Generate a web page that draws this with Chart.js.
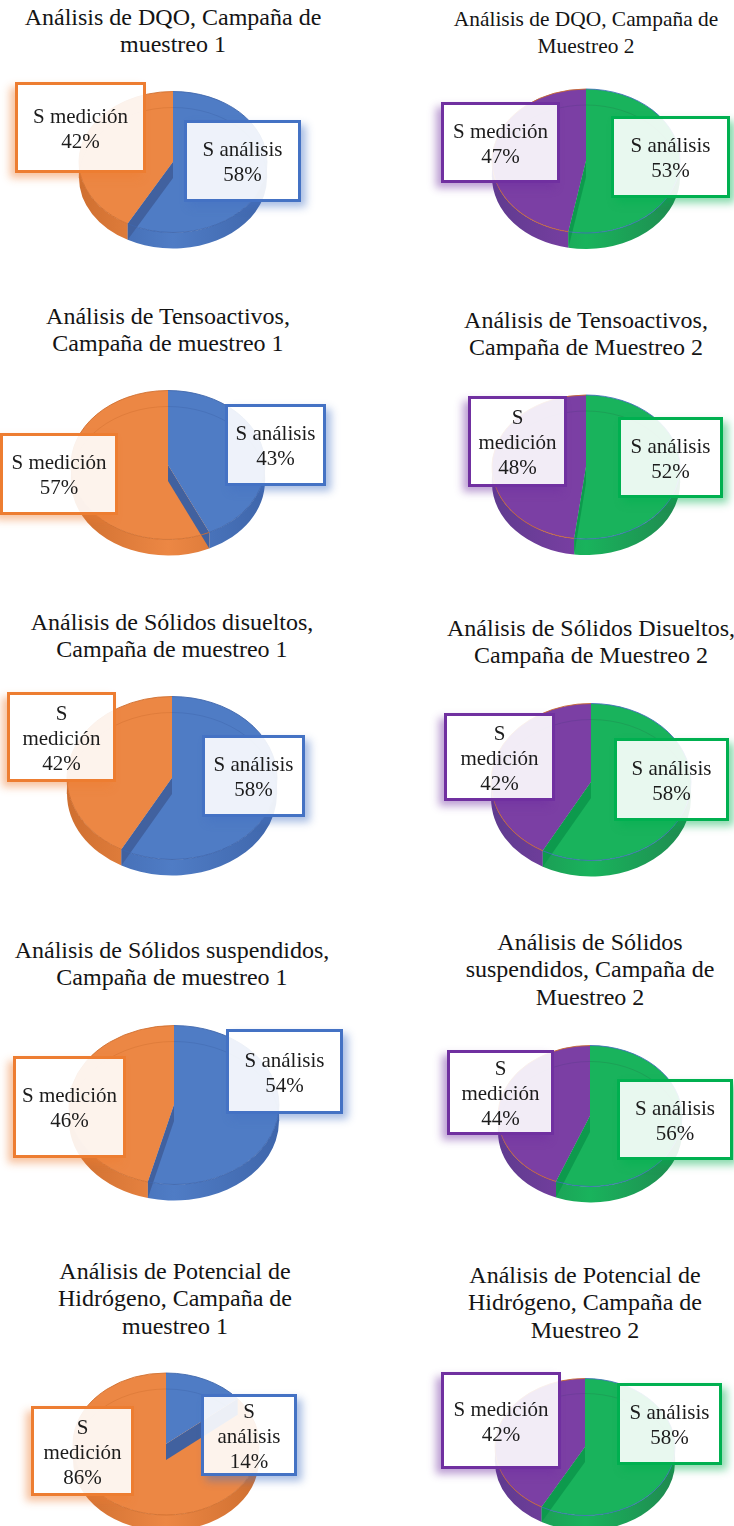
<!DOCTYPE html>
<html lang="es">
<head>
<meta charset="utf-8">
<title>Análisis por campaña de muestreo</title>
<script src="https://cdn.jsdelivr.net/npm/chart.js@4"></script>
<style>
    html, body { margin: 0; padding: 0; background: #fff; }
    #lamina { position: relative; width: 734px; height: 1526px; overflow: hidden; font-family: "Liberation Serif", serif; color: #1c1c1c; }
    #lamina canvas { position: absolute; }
    .titulo { position: absolute; transform: translateX(-50%); text-align: center; white-space: nowrap; color: #141414; }
    .etiqueta { position: absolute; box-sizing: border-box; display: flex; align-items: center; justify-content: center;
        text-align: center; font-size: 21px; line-height: 25px; background: rgba(255,255,255,0.9); border-style: solid; border-width: 3px; padding: 2px 5px 0; }
</style>
</head>
<body>
<div id="lamina"></div>
<script>
    var categorias = ["S análisis", "S medición"];
    var sAnalisis = [58, 53, 43, 52, 58, 58, 54, 56, 14, 58];
    var sMedicion = [42, 47, 57, 48, 42, 42, 46, 44, 86, 42];
    var titulos = [
        ["Análisis de DQO, Campaña de", "muestreo 1"],
        ["Análisis de DQO, Campaña de", "Muestreo 2"],
        ["Análisis de Tensoactivos,", "Campaña de muestreo 1"],
        ["Análisis de Tensoactivos,", "Campaña de Muestreo 2"],
        ["Análisis de Sólidos disueltos,", "Campaña de muestreo 1"],
        ["Análisis de Sólidos Disueltos,", "Campaña de Muestreo 2"],
        ["Análisis de Sólidos suspendidos,", "Campaña de muestreo 1"],
        ["Análisis de Sólidos", "suspendidos, Campaña de", "Muestreo 2"],
        ["Análisis de Potencial de", "Hidrógeno, Campaña de", "muestreo 1"],
        ["Análisis de Potencial de", "Hidrógeno, Campaña de", "Muestreo 2"]
    ];

    /* COLORES: primera columna azul/naranja, segunda verde/morado */
    var temas = [
        { caras: ["#4f7cc5", "#ec8744"], marcos: ["#4472c4", "#ed7d31"], lados: ["#3f66ab", "#cf6f30"], pared: "#41619f", borde: [null, null] },
        { caras: ["#19b35c", "#7b3fa4"], marcos: ["#00b050", "#7030a0"], lados: ["#1f8a50", "#5f3b8f"], pared: "#0d9a4d", borde: ["#3f6fb5", "#c9682e"] }
    ];

    /* GEOMETRIA de cada torta y de sus dos recuadros [x0, x1, y0, y1] */
    var tortas = [
        { cx: 173, cy: 161.5, rx: 94, ry: 70.5, prof: 16, tx: 173, ty: 4, fs: 24, caja: [[184, 301, 120, 202], [15, 146, 82, 173]] },
        { cx: 586, cy: 161, rx: 94, ry: 72, prof: 16, tx: 586, ty: 6, fs: 21.4, caja: [[611, 730, 116, 198], [441, 560, 102, 183]] },
        { cx: 168, cy: 464.5, rx: 97, ry: 74.5, prof: 16, tx: 168, ty: 303, fs: 24, caja: [[225, 326, 404, 486], [0, 118, 433, 515]] },
        { cx: 586, cy: 467, rx: 94, ry: 72, prof: 16, tx: 586, ty: 307, fs: 24, caja: [[618, 723, 417, 498], [468, 567, 396, 487]] },
        { cx: 172, cy: 777.5, rx: 105, ry: 81.5, prof: 16, tx: 172, ty: 609, fs: 24, caja: [[202, 305, 735, 817], [7, 116, 692, 782]] },
        { cx: 591, cy: 781.5, rx: 100, ry: 78.5, prof: 16, tx: 591, ty: 615, fs: 24, caja: [[614, 729, 738, 821], [444, 555, 713, 801]] },
        { cx: 174, cy: 1104.5, rx: 105, ry: 79.5, prof: 16, tx: 172, ty: 937, fs: 24, caja: [[226, 343, 1029, 1114], [13, 126, 1056, 1158]] },
        { cx: 590, cy: 1115.5, rx: 92, ry: 70.5, prof: 16, tx: 590, ty: 929, fs: 24, caja: [[617, 733, 1079, 1160], [447, 554, 1050, 1135]] },
        { cx: 166, cy: 1444, rx: 93, ry: 71, prof: 16, tx: 175, ty: 1258, fs: 24, caja: [[201, 297, 1394, 1476, 8], [31, 134, 1406, 1496]] },
        { cx: 585, cy: 1446.5, rx: 90, ry: 68.5, prof: 15, tx: 585, ty: 1262, fs: 24, caja: [[617, 722, 1383, 1465], [441, 561, 1372, 1469]] }
    ];

    // Aplasta la torta en elipse y le pone el canto inferior
    var torta3d = {
        id: "torta3d",
        beforeDatasetsDraw: function (chart, args, opts) {
            var ctx = chart.ctx;
            var arcos = chart.getDatasetMeta(0).data;
            var x = arcos[0].x, y = arcos[0].y, r = arcos[0].outerRadius;
            var k = opts.ry / r;
            var baja = opts.prof / k;
            ctx.save();
            ctx.translate(0, y);
            ctx.scale(1, k);
            ctx.translate(0, -y);
            arcos.forEach(function (arco, i) {
                var a0 = Math.max(arco.startAngle, 0);
                var a1 = Math.min(arco.endAngle, Math.PI);
                if (a1 <= a0) return;
                var g = ctx.createLinearGradient(x - r, 0, x + r, 0);
                g.addColorStop(0, opts.tema.lados[i]);
                g.addColorStop(0.5, opts.tema.caras[i]);
                g.addColorStop(1, opts.tema.lados[i]);
                ctx.fillStyle = g;
                ctx.beginPath();
                ctx.arc(x, y, r, a0, a1);
                ctx.arc(x, y + baja, r, a1, a0, true);
                ctx.closePath();
                ctx.fill();
            });
        },
        afterDatasetsDraw: function (chart, args, opts) {
            var ctx = chart.ctx;
            var arcos = chart.getDatasetMeta(0).data;
            var x = arcos[0].x, y = arcos[0].y, r = arcos[0].outerRadius;
            var baja = opts.prof / (opts.ry / r);
            // pared del corte, siempre al final del primer sector
            var fin = arcos[0].endAngle;
            var px = x + r * Math.cos(fin), py = y + r * Math.sin(fin);
            ctx.fillStyle = opts.tema.pared;
            ctx.beginPath();
            ctx.moveTo(x, y);
            ctx.lineTo(px, py);
            ctx.lineTo(px, py + baja);
            ctx.lineTo(x, y + baja);
            ctx.closePath();
            ctx.fill();
            // arcos finos: borde de la cara y fondo de la base
            arcos.forEach(function (arco, i) {
                ctx.strokeStyle = opts.tema.borde[i] || opts.tema.lados[i];
                ctx.lineWidth = 1;
                ctx.beginPath();
                ctx.arc(x, y, r, arco.startAngle, arco.endAngle);
                ctx.stroke();
                ctx.strokeStyle = opts.tema.lados[i];
                ctx.globalAlpha = 0.5;
                ctx.beginPath();
                var c0 = Math.max(arco.startAngle, -Math.PI / 2);
                var c1 = Math.min(arco.endAngle, 0);
                if (c1 > c0) ctx.arc(x, y + baja, r, c0, c1);
                ctx.stroke();
                ctx.beginPath();
                var d0 = Math.max(arco.startAngle, Math.PI);
                var d1 = Math.min(arco.endAngle, 3 * Math.PI / 2);
                if (d1 > d0) ctx.arc(x, y + baja, r, d0, d1);
                ctx.stroke();
                ctx.globalAlpha = 1;
            });
            ctx.restore();
        }
    };

    var lamina = document.getElementById("lamina");

    function creaTitulo(lineas, t) {
        var div = document.createElement("div");
        div.className = "titulo";
        div.style.left = t.tx + "px";
        div.style.top = t.ty + "px";
        div.style.fontSize = t.fs + "px";
        div.style.lineHeight = "27.3px";
        div.innerHTML = lineas.join("<br>");
        lamina.appendChild(div);
    }

    function creaEtiqueta(j, valor, t, tema) {
        var c = t.caja[j];
        var div = document.createElement("div");
        div.className = "etiqueta";
        div.style.left = c[0] + "px";
        div.style.top = c[2] + "px";
        div.style.width = (c[1] - c[0]) + "px";
        div.style.height = (c[3] - c[2]) + "px";
        div.style.borderColor = tema.marcos[j];
        // margen propio en las cajas estrechas, para que el texto parta en dos
        if (c[4]) {
            div.style.paddingLeft = c[4] + "px";
            div.style.paddingRight = c[4] + "px";
        }
        var dx = (c[0] + c[1]) / 2 < t.cx ? -5 : 5;
        div.style.boxShadow = dx + "px 5px 8px " + tema.marcos[j] + "77";
        var span = document.createElement("span");
        span.innerHTML = categorias[j] + "<br>" + valor + "%";
        div.appendChild(span);
        lamina.appendChild(div);
    }

    tortas.forEach(function (t, i) {
        var tema = temas[i % 2];
        var lado = 2 * t.rx + 4;
        var lienzo = document.createElement("canvas");
        lienzo.width = lado;
        lienzo.height = lado;
        lienzo.style.left = (t.cx - lado / 2) + "px";
        lienzo.style.top = (t.cy - lado / 2) + "px";
        lamina.appendChild(lienzo);
        new Chart(lienzo.getContext("2d"), {
            type: "pie",
            data: {
                labels: categorias,
                datasets: [{ data: [sAnalisis[i], sMedicion[i]], backgroundColor: tema.caras, borderWidth: 0 }]
            },
            options: {
                responsive: false,
                animation: false,
                radius: t.rx,
                layout: { padding: 0 },
                plugins: {
                    legend: { display: false },
                    tooltip: { enabled: false },
                    torta3d: { ry: t.ry, prof: t.prof, tema: tema }
                }
            },
            plugins: [torta3d]
        });
    });

    // titulos y recuadros van encima de todas las tortas
    tortas.forEach(function (t, i) {
        var tema = temas[i % 2];
        creaTitulo(titulos[i], t);
        creaEtiqueta(0, sAnalisis[i], t, tema);
        creaEtiqueta(1, sMedicion[i], t, tema);
    });
</script>
</body>
</html>
